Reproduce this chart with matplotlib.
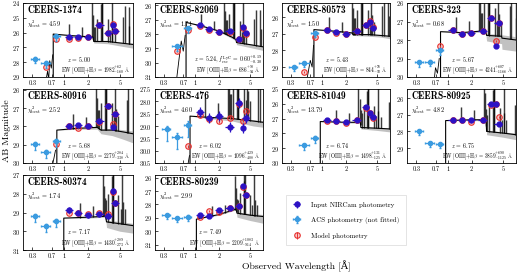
import numpy as np
import matplotlib
matplotlib.use("Agg")
import matplotlib.pyplot as plt
from matplotlib.ticker import NullLocator

plt.rcParams['font.family'] = ['cmr10', 'DejaVu Serif']
plt.rcParams['mathtext.fontset'] = 'cm'
plt.rcParams['axes.unicode_minus'] = False
plt.rcParams['axes.formatter.use_mathtext'] = True

# ---- per-object info ----
names = ['CEERS-1374', 'CEERS-82069', 'CEERS-80573', 'CEERS-323', 'CEERS-80916',
         'CEERS-476', 'CEERS-81049', 'CEERS-80925', 'CEERS-80374', 'CEERS-80239']
chi2 = ['4.59', '1.71', '1.50', '0.68', '2.52', '4.60', '13.79', '4.82', '1.74', '2.99']
zphot = [5.00, 5.24, 5.43, 5.67, 5.68, 6.02, 6.74, 6.75, 7.17, 7.49]
ew_txt = [r'1982$^{+62}_{-160}$', r'686$^{+90}_{-94}$', r'844$^{+76}_{-92}$',
          r'4241$^{+607}_{-1166}$', r'2279$^{+284}_{-338}$', r'1096$^{+429}_{-408}$',
          r'1498$^{+131}_{-125}$', r'3859$^{+690}_{-1125}$', r'1430$^{+289}_{-273}$',
          r'2209$^{+1083}_{-914}$']
ylims = [(29, 24), (31, 25.85), (29.6, 25.15), (30, 26), (30, 25.95),
         (30.5, 27.5), (30, 25), (29.9, 25.45), (31, 27), (31.4, 25.8)]
yticks = [[24, 25, 26, 27, 28, 29], [26, 27, 28, 29, 30, 31], [26, 27, 28, 29],
          [26, 27, 28, 29, 30], [26, 27, 28, 29, 30],
          [27.5, 28.0, 28.5, 29.0, 29.5, 30.0, 30.5], [25, 26, 27, 28, 29, 30],
          [26, 27, 28, 29], [27, 28, 29, 30, 31], [26, 27, 28, 29, 30, 31]]

# ---- photometry ----
nir_wl = [1.15, 1.50, 1.99, 2.77, 3.56, 4.08, 4.40]
nir_xerr = [0.13, 0.16, 0.23, 0.35, 0.39, 0.1, 0.5]
nir_mag = [[26.29, 26.33, 26.27, 25.47, 26.02, 25.47, 25.89],
           [27.40, 27.67, 27.88, 27.79, 28.38, 27.52, 27.95],
           [26.76, 26.92, 27.00, 26.82, 26.50, 26.30, 26.66],
           [27.45, 27.70, 27.60, 27.50, 26.79, 28.30, 27.10],
           [28.00, 27.90, 27.95, 27.70, 26.90, 28.05, 27.30],
           [28.43, 28.68, 28.60, 29.04, 28.05, 29.07, 28.68],
           [27.10, 27.15, 27.25, 27.10, 26.20, 26.65, 26.90],
           [27.30, 27.30, 27.30, 27.30, 26.38, 26.38, 27.55],
           [28.85, 29.00, 29.15, 29.10, 29.20, 27.85, 28.50],
           [28.80, 28.85, 28.40, 28.30, 28.10, 26.60, 27.30]]
model_mag = [[26.45, 26.35, 26.30, 25.50, 26.05, 25.45, 25.90],
             [27.45, 27.75, 27.90, 27.85, 28.35, 27.60, 28.00],
             [26.80, 26.95, 27.00, 26.85, 26.45, 26.22, 26.60],
             [27.45, 27.70, 27.60, 27.50, 26.80, 28.05, 27.10],
             [28.00, 28.10, 27.95, 27.75, 26.90, 27.85, 27.30],
             [28.57, 28.70, 28.80, 28.67, 28.10, 28.78, 28.40],
             [27.15, 27.15, 27.30, 27.10, 26.30, 26.60, 26.95],
             [27.30, 27.30, 27.45, 27.30, 26.40, 26.38, 27.15],
             [29.00, 29.05, 29.10, 29.05, 29.10, 27.90, 28.50],
             [28.95, 28.50, 28.55, 28.30, 28.10, 26.70, 27.30]]
nir_err = [0.08, 0.1, 0.08, 0.1, 0.1, 0.2, 0.08, 0.1, 0.15, 0.12]

acs_wl = [0.43, 0.59, 0.80]
acs_xerr = [0.05, 0.08, 0.08]
nan = np.nan
acs_mag = [[27.75, 28.05, 26.25], [nan, 28.86, 27.60], [29.00, 28.76, 26.96],
           [29.20, 29.17, 28.55], [28.95, 29.40, 28.80], [29.14, 29.44, 28.95],
           [nan, 28.80, 28.30], [28.00, 28.70, 28.75], [29.20, 29.70, 29.45],
           [28.80, 29.00, 28.90]]
acs_model = [[nan, 28.30, 26.40], [nan, 29.20, 27.75], [nan, 29.30, 27.22],
             [nan, nan, 28.35], [nan, nan, 28.95], [nan, nan, 29.83],
             [nan, nan, nan], [nan, nan, nan], [nan, nan, nan], [nan, nan, nan]]
acs_err = [0.2, 0.2, 0.15, 0.15, 0.2, 0.3, 0.2, 0.15, 0.2, 0.2]

# ---- best-fit model spectra (continuum) ----
cont_wl = [[0.73, 0.73, 1.2, 2.3, 2.35, 3.5, 5.0, 7.3],
           [0.76, 0.76, 1.2, 2.0, 3.0, 3.3, 3.35, 5.0, 7.3],
           [0.78, 0.78, 1.5, 2.4, 2.45, 4.0, 5.5, 7.3],
           [0.81, 0.81, 1.5, 3.0, 3.1, 4.8, 4.85, 7.3],
           [0.81, 0.81, 1.5, 2.6, 2.9, 4.0, 5.5, 7.3],
           [0.854, 0.854, 1.5, 3.0, 4.0, 5.5, 7.3],
           [0.94, 0.94, 2.0, 3.05, 3.1, 5.0, 7.3],
           [0.94, 0.94, 2.0, 3.05, 3.1, 5.0, 7.3],
           [0.99, 0.99, 2.0, 3.3, 3.4, 5.0, 7.3],
           [1.03, 1.03, 2.0, 3.3, 3.4, 5.0, 7.3]]
cont_mag = [[35, 26.1, 26.2, 26.3, 26.6, 26.6, 26.7, 26.8],
            [35, 27.2, 27.45, 27.8, 28.25, 28.4, 28.6, 28.75, 28.9],
            [35, 26.75, 26.85, 26.95, 27.05, 27.05, 27.1, 27.15],
            [35, 27.55, 27.6, 27.5, 27.75, 27.8, 27.9, 28.0],
            [35, 28.2, 28.1, 28.05, 28.2, 28.2, 28.3, 28.4],
            [35, 28.6, 28.65, 28.7, 28.75, 28.8, 28.85],
            [35, 27.2, 27.25, 27.25, 27.6, 27.65, 27.7],
            [35, 27.35, 27.3, 27.3, 28.0, 28.1, 28.2],
            [35, 29.3, 29.25, 29.2, 29.5, 29.6, 29.7],
            [35, 29.1, 28.75, 28.35, 28.65, 28.8, 28.9]]
cont_shade = [[0, 0, 0.05, 0.05, 0.1, 0.15, 0.2, 0.25],
              [0, 0, 0.05, 0.05, 0.1, 0.1, 0.15, 0.2, 0.25],
              [0, 0, 0.05, 0.05, 0.05, 0.1, 0.1, 0.15],
              [0, 0, 0.05, 0.05, 0.3, 0.4, 0.6, 0.6],
              [0, 0, 0.05, 0.1, 0.2, 0.3, 0.4, 0.5],
              [0, 0, 0.05, 0.1, 0.15, 0.2, 0.2],
              [0, 0, 0.05, 0.05, 0.1, 0.15, 0.2],
              [0, 0, 0.05, 0.05, 0.2, 0.25, 0.3],
              [0, 0, 0.05, 0.05, 0.3, 0.4, 0.4],
              [0, 0, 0.05, 0.05, 0.3, 0.4, 0.5]]
igm_wl = [[0.58, 0.62, 0.64, 0.66, 0.69, 0.72], [0.58, 0.62, 0.66, 0.70, 0.74],
          [0.62, 0.66, 0.70, 0.74, 0.77], [0.66, 0.70, 0.74, 0.78],
          [0.66, 0.70, 0.74, 0.78], [0.75, 0.80, 0.84], [], [], [], []]
igm_mag = [[29.5, 28.6, 29.2, 27.9, 28.4, 27.5], [31, 29.7, 28.5, 29.2, 28.1],
           [30, 29.3, 28.6, 29.0, 27.7], [30.5, 29.5, 29.8, 29.0],
           [31, 30.3, 29.8, 29.3], [31, 30.6, 30.2], [], [], [], []]

# emission lines: rest wavelength [um] and height above continuum [mag]
line_rest = [0.1909, 0.2799, 0.3727, 0.3869, 0.3970, 0.4102, 0.4341, 0.4861, 0.4959,
             0.5007, 0.5876, 0.6300, 0.6563, 0.6725, 0.7136, 0.9069, 0.9531, 1.0830, 1.0941]
line_height = [0.8, 0.6, 2.5, 1.6, 1.0, 1.0, 1.5, 2.5, 3.5,
               5.0, 1.5, 0.8, 5.0, 1.2, 0.8, 1.8, 2.5, 2.5, 1.2]

nir_col = '#2c12c4'
acs_col = '#3b9be0'
mod_col = '#e8312f'

col_left = [23, 155, 282, 407]
col_w = [110, 108, 108, 109]
row_top = [3, 89, 175]
row_h = [74, 74, 75]
W, H = 520, 272

fig = plt.figure(figsize=(5.2, 2.72), dpi=100)

handles = None
for k in range(10):
    r, c = divmod(k, 4)
    ax = fig.add_axes([col_left[c] / W, 1 - (row_top[r] + row_h[r]) / H,
                       col_w[c] / W, row_h[r] / H])
    ax.set_xscale('log')
    ax.set_xlim(0.305, 7.3)
    ax.set_ylim(*ylims[k])

    # model spectrum
    cw = np.array(cont_wl[k])
    cm = np.array(cont_mag[k])
    cs = np.array(cont_shade[k])
    ax.fill_between(cw[1:], cm[1:] - cs[1:] * 0.3, cm[1:] + cs[1:], color='0.6', alpha=0.6, lw=0, zorder=1)
    ax.plot(cw, cm, color='k', lw=0.8, zorder=2)
    if igm_wl[k]:
        ax.plot(igm_wl[k], igm_mag[k], color='k', lw=0.6, zorder=2)
    for lr, lh in zip(line_rest, line_height):
        wl = lr * (1 + zphot[k])
        if cw[1] < wl < 7.3:
            base = np.interp(wl, cw[1:], cm[1:])
            ax.vlines(wl, base, base - lh, color='0.55', lw=1.8, alpha=0.5, zorder=1)
            ax.vlines(wl, base, base - lh, color='k', lw=0.5, zorder=2)

    # photometry
    h_mod = ax.errorbar(nir_wl, model_mag[k], yerr=0.06, fmt='o', ms=4, mfc=(0.9, 0.2, 0.2, 0.25),
                        mec=mod_col, mew=0.8, ecolor=mod_col, elinewidth=0.7, zorder=3)
    ax.errorbar(acs_wl, acs_model[k], yerr=0.06, fmt='o', ms=4, mfc=(0.9, 0.2, 0.2, 0.25),
                mec=mod_col, mew=0.8, ecolor=mod_col, elinewidth=0.7, zorder=3)
    h_nir = ax.errorbar(nir_wl, nir_mag[k], xerr=nir_xerr, yerr=nir_err[k], fmt='o', ms=3.5,
                        color=nir_col, elinewidth=0.9, zorder=4)
    ae = acs_err[k]
    h_acs = ax.errorbar(acs_wl, acs_mag[k], xerr=acs_xerr, yerr=[[ae * 0.5] * 3, [ae * 1.6] * 3],
                        fmt='o', ms=3, color=acs_col, elinewidth=0.9, capsize=0.8, zorder=4)
    if handles is None:
        handles = [h_nir, h_acs, h_mod]

    ax.set_xticks([0.4, 0.7, 1, 2, 5])
    ax.set_xticklabels(['0.3', '0.7', '1', '2', '5'])
    ax.xaxis.set_minor_locator(NullLocator())
    ax.set_yticks(yticks[k])
    ax.tick_params(labelsize=4.5, length=2, width=0.5, direction='in', pad=2)
    for s in ax.spines.values():
        s.set_linewidth(0.6)

    ax.text(0.04, 0.97, names[k], transform=ax.transAxes, fontsize=7, family=['cmb10'],
            va='top', ha='left', zorder=6)
    ax.text(0.04, 0.80, r'$\chi^2_{\rm best}$ = ' + chi2[k], transform=ax.transAxes,
            fontsize=4.5, va='top', ha='left', zorder=6)
    if k == 1:
        ztxt = (r'$z$ = 5.24, $f_{\rm esc}^{\rm LyC}$ = '
                r'$\mathbf{0.60}^{+0.19}_{-0.30}$')
        ax.text(0.36, 0.24, ztxt, transform=ax.transAxes, fontsize=4.2, va='center', zorder=6)
    else:
        ax.text(0.40, 0.24, r'$z$ = %.2f' % zphot[k], transform=ax.transAxes,
                fontsize=4.3, va='center', zorder=6)
    ax.text(0.975, 0.09, r'EW [OIII]+H$\beta$ = ' + ew_txt[k] + r' $\mathrm{\AA}$',
            transform=ax.transAxes, fontsize=3.8, va='center', ha='right', zorder=6)

fig.text(0.014, 0.52, 'AB Magnitude', rotation=90, fontsize=7, va='center', ha='center')
fig.text(0.57, 0.022, 'Observed Wavelength [Å]', fontsize=7, va='center', ha='center')

leg = fig.legend(handles, ['Input NIRCam photometry', 'ACS photometry (not fitted)', 'Model photometry'],
                 loc='upper left', bbox_to_anchor=(283 / W, 1 - 192 / H), fontsize=5,
                 labelspacing=1.3, handlelength=1.2, borderpad=0.9, handletextpad=1.5,
                 fancybox=False, edgecolor='0.85', framealpha=1)
leg.get_frame().set_linewidth(0.5)

fig.savefig('out.png', dpi=100)
